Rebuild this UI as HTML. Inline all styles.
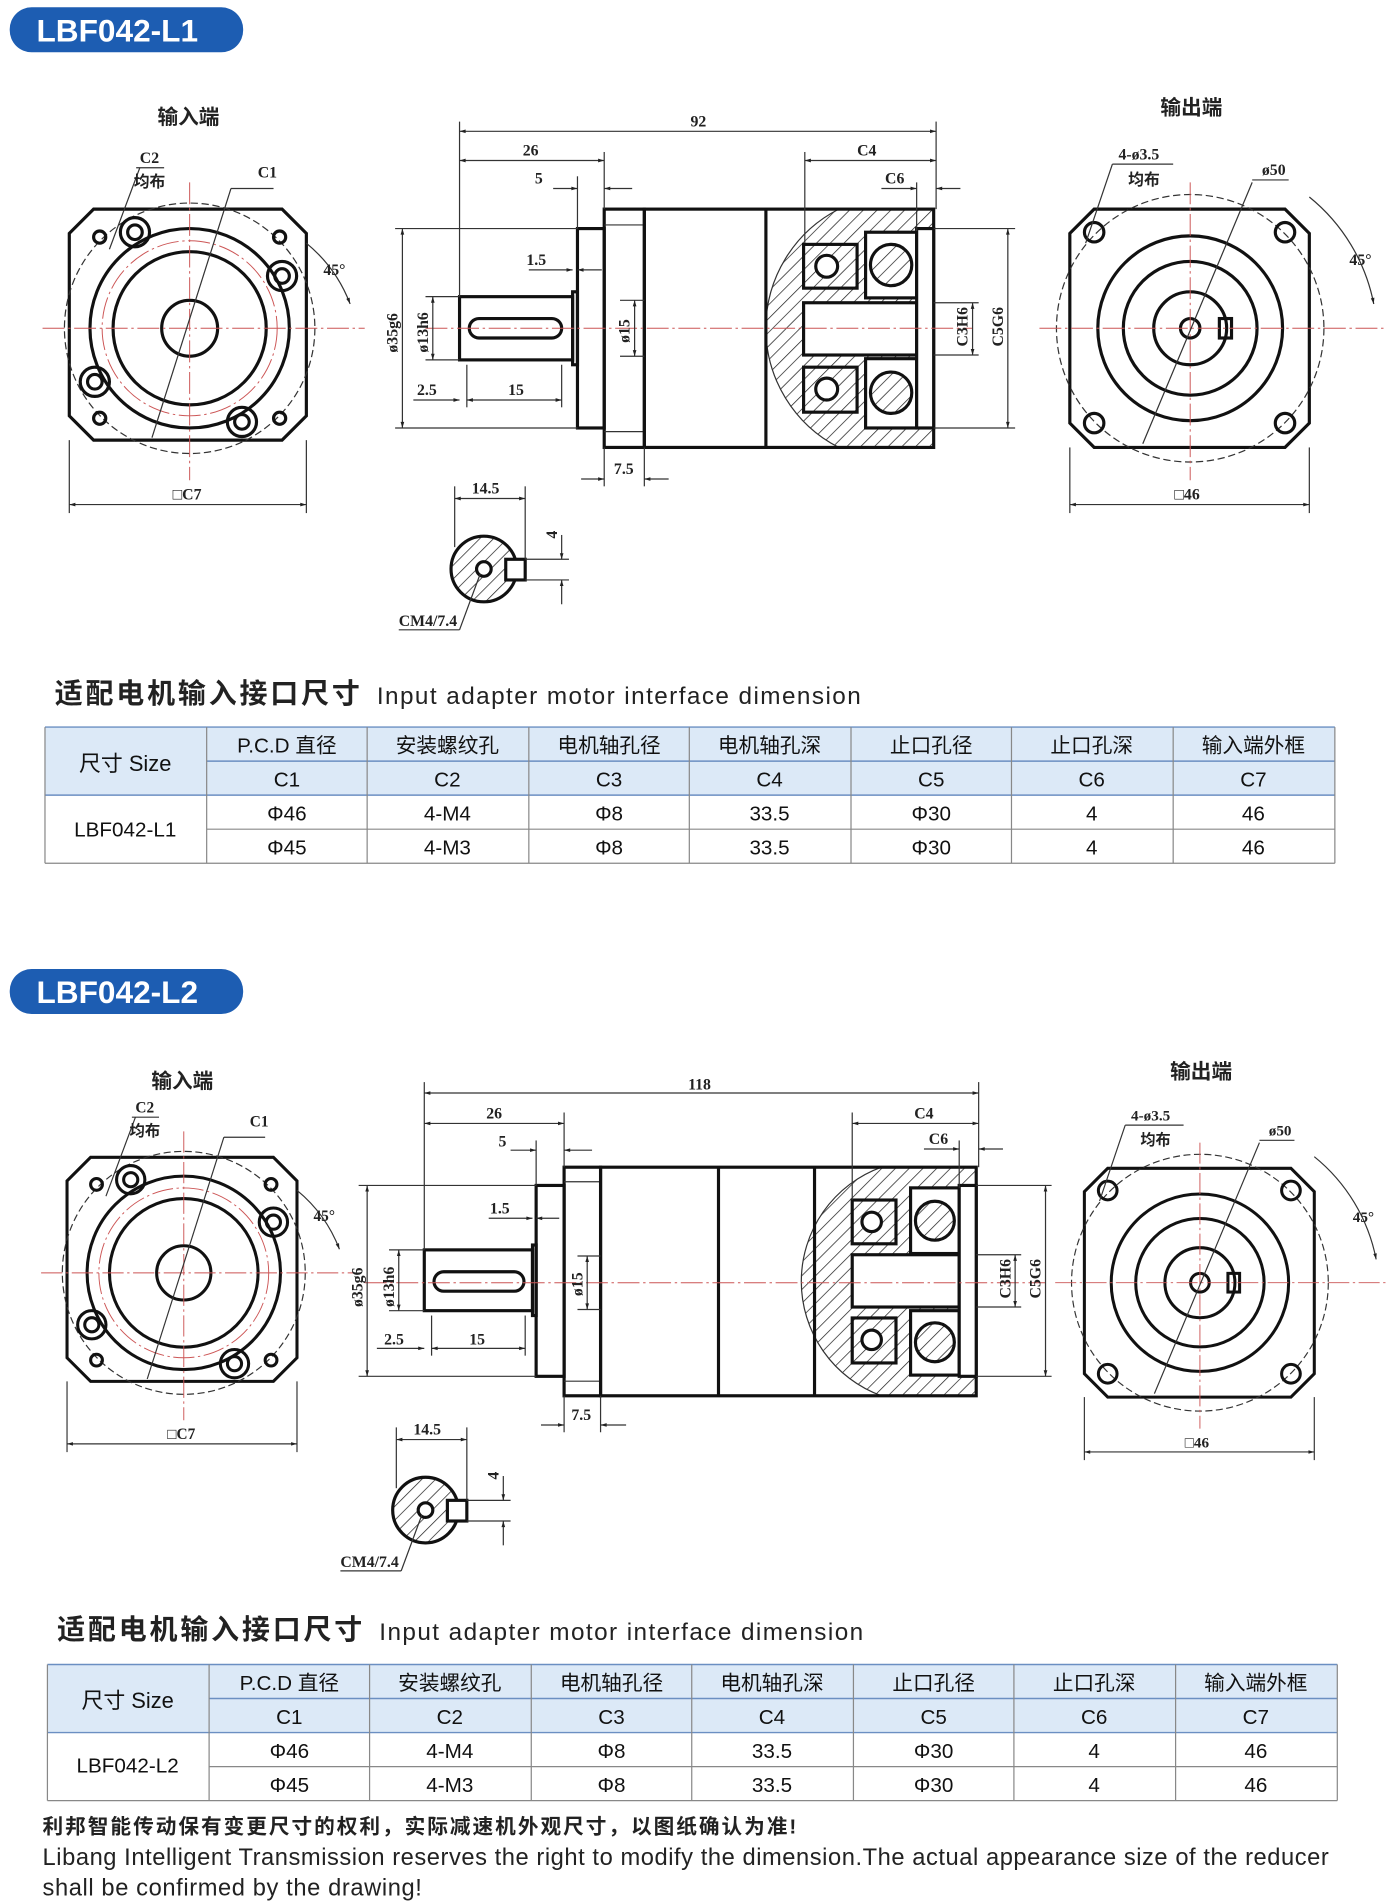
<!DOCTYPE html>
<html><head><meta charset="utf-8"><style>
html,body{margin:0;padding:0;background:#fff}
svg{display:block}
.d{font-family:"Liberation Serif","Noto Serif CJK SC",serif;font-size:13px;font-weight:bold;fill:#222}
.c{font-family:"Liberation Sans","Noto Sans CJK SC",sans-serif;font-weight:bold;fill:#222}
.t{font-family:"Liberation Sans","Noto Sans CJK SC",sans-serif;font-size:17px;fill:#111;text-anchor:middle}
.k{stroke:#111;stroke-width:2.6;fill:none}
.k.kh{fill:url(#h)}
.k.kw{fill:#fff}
.n{stroke:#333;stroke-width:1;fill:none}
.r{stroke:#c55;stroke-width:0.8;fill:none;stroke-dasharray:18 3 2 3}
</style></head><body>
<svg width="1392" height="1904" viewBox="0 0 1145 1566" preserveAspectRatio="none" xmlns="http://www.w3.org/2000/svg">
<defs>
<pattern id="h" width="8" height="8" patternUnits="userSpaceOnUse" patternTransform="rotate(45)"><rect width="8" height="8" fill="#fff"/><line x1="0" y1="0" x2="0" y2="8" stroke="#222" stroke-width="1.2"/></pattern>
<marker id="a" viewBox="0 0 10 10" refX="10" refY="5" markerWidth="8" markerHeight="5" orient="auto-start-reverse"><path d="M0,2 L10,5 L0,8z" fill="#222"/></marker>
<g id="inV">
<path class="k" d="M77,172 L232,172 L252,192 L252,342 L232,362 L77,362 L57,342 L57,192Z"/>
<circle cx="156" cy="270" r="103" class="n" stroke-dasharray="6 3"/>
<circle cx="156" cy="270" r="82" class="k"/>
<circle cx="156" cy="270" r="63" class="k" stroke-width="2"/>
<circle cx="156" cy="270" r="23" class="k"/>
<circle cx="156" cy="270" r="72" class="r"/>
<g class="k"><circle cx="111" cy="191" r="12"/><circle cx="111" cy="191" r="6"/><circle cx="232" cy="227" r="12"/><circle cx="232" cy="227" r="6"/><circle cx="78" cy="314" r="12"/><circle cx="78" cy="314" r="6"/><circle cx="199" cy="347" r="12"/><circle cx="199" cy="347" r="6"/></g>
<g class="k" stroke-width="1.6"><circle cx="82" cy="195" r="5"/><circle cx="230" cy="195" r="5"/><circle cx="82" cy="344" r="5"/><circle cx="230" cy="344" r="5"/></g>
<line x1="35" y1="270" x2="300" y2="270" class="r"/><line x1="156" y1="150" x2="156" y2="395" class="r"/>
<line x1="125" y1="360" x2="190" y2="155" class="n"/><line x1="190" y1="155" x2="225" y2="155" class="n"/>
<line x1="90" y1="205" x2="115" y2="138" class="n"/><line x1="112" y1="138" x2="135" y2="138" class="n"/>
<text x="212" y="146" class="d">C1</text><text x="115" y="134" class="d">C2</text><text x="110" y="154" class="c" font-size="13">均布</text>
<path d="M252,200 A120,120 0 0 1 288,250" class="n" marker-end="url(#a)"/><text x="266" y="226" class="d">45°</text>
<line x1="57" y1="362" x2="57" y2="422" class="n"/><line x1="252" y1="362" x2="252" y2="422" class="n"/>
<line x1="57" y1="415" x2="252" y2="415" class="n" marker-start="url(#a)" marker-end="url(#a)"/>
<text x="142" y="411" class="d">□C7</text>
</g>
<g id="outV">
<path class="k" d="M900,172 L1057,172 L1077,192 L1077,348 L1057,368 L900,368 L880,348 L880,192Z"/>
<circle cx="979" cy="270" r="110" class="n" stroke-dasharray="6 3"/>
<circle cx="979" cy="270" r="76" class="k" stroke-width="2"/>
<circle cx="979" cy="270" r="55" class="k" stroke-width="2"/>
<circle cx="979" cy="270" r="30" class="k"/>
<circle cx="979" cy="270" r="8" class="k" stroke-width="2"/>
<rect x="1003" y="262" width="10" height="16" class="k" stroke-width="1.5"/>
<g class="k" stroke-width="2"><circle cx="900" cy="191" r="8"/><circle cx="1057" cy="191" r="8"/><circle cx="900" cy="348" r="8"/><circle cx="1057" cy="348" r="8"/></g>
<line x1="855" y1="270" x2="1140" y2="270" class="r"/><line x1="979" y1="150" x2="979" y2="395" class="r"/>
<line x1="940" y1="365" x2="1030" y2="150" class="n"/><line x1="1030" y1="148" x2="1060" y2="148" class="n"/>
<line x1="893" y1="200" x2="915" y2="135" class="n"/><line x1="915" y1="135" x2="965" y2="135" class="n"/>
<text x="1038" y="144" class="d">ø50</text><text x="920" y="131" class="d">4-ø3.5</text><text x="928" y="152" class="c" font-size="13">均布</text>
<path d="M1077,162 A150,150 0 0 1 1130,250" class="n" marker-end="url(#a)"/><text x="1110" y="218" class="d">45°</text>
<line x1="880" y1="368" x2="880" y2="422" class="n"/><line x1="1077" y1="368" x2="1077" y2="422" class="n"/>
<line x1="880" y1="415" x2="1077" y2="415" class="n" marker-start="url(#a)" marker-end="url(#a)"/>
<text x="966" y="411" class="d">□46</text>
</g>
<g id="keyV">
<circle cx="398" cy="468" r="27" class="k kh"/>
<rect x="416" y="460" width="16" height="17" class="k kw" stroke-width="2.2"/>
<circle cx="398" cy="468" r="6" class="k kw" stroke-width="2"/>
<line x1="374" y1="400" x2="374" y2="450" class="n"/><line x1="432" y1="400" x2="432" y2="460" class="n"/>
<line x1="374" y1="410" x2="432" y2="410" class="n" marker-start="url(#a)" marker-end="url(#a)"/><text x="388" y="406" class="d">14.5</text>
<line x1="432" y1="460" x2="468" y2="460" class="n"/><line x1="432" y1="477" x2="468" y2="477" class="n"/>
<line x1="462" y1="440" x2="462" y2="460" class="n" marker-end="url(#a)"/><line x1="462" y1="497" x2="462" y2="477" class="n" marker-end="url(#a)"/>
<text x="458" y="443" class="d" transform="rotate(-90 458 443)">4</text>
<line x1="378" y1="518" x2="395" y2="472" class="n"/><line x1="328" y1="518" x2="378" y2="518" class="n"/>
<text x="328" y="515" class="d">CM4/7.4</text>
</g>
</defs>

<rect x="8" y="6" width="192" height="37" rx="18" fill="#1d5db2"/>
<text x="30" y="34" font-family="Liberation Sans,sans-serif" font-size="26" font-weight="bold" fill="#fff">LBF042-L1</text>
<text x="155" y="102" class="c" font-size="17" text-anchor="middle">输入端</text>
<text x="980" y="94" class="c" font-size="17" text-anchor="middle">输出端</text>
<use href="#inV"/><use href="#outV"/><use href="#keyV"/>

<g>
<path d="M690,172 L768,172 L768,368 L690,368 A110,110 0 0 1 690,172Z" fill="url(#h)" stroke="none"/>
<path d="M690,172 A110,110 0 0 0 690,368" class="n" stroke-width="1.5"/>
<rect x="378" y="244" width="93" height="52" class="k"/>
<rect x="386" y="262" width="76" height="16" rx="8" class="k" stroke-width="2"/>
<rect x="471" y="240" width="4" height="60" class="k" stroke-width="1.5"/>
<rect x="475" y="188" width="22" height="164" class="k"/>
<rect x="497" y="172" width="33" height="196" class="k"/>
<line x1="497" y1="185" x2="530" y2="185" class="n"/><line x1="497" y1="355" x2="530" y2="355" class="n"/>
<rect x="530" y="172" width="238" height="196" class="k"/>
<line x1="630" y1="172" x2="630" y2="368" class="k"/>
<rect x="661" y="249" width="93" height="43" class="k kw"/>
<rect x="712" y="191" width="42" height="54" class="k kw"/><circle cx="733" cy="218" r="17" class="k kh"/>
<rect x="712" y="295" width="42" height="57" class="k kw"/><circle cx="733" cy="323" r="17" class="k kh"/>
<rect x="661" y="201" width="44" height="36" class="k kh"/><circle cx="680" cy="219" r="9" class="k kw"/>
<rect x="661" y="302" width="44" height="37" class="k kh"/><circle cx="680" cy="320" r="9" class="k kw"/>
<rect x="754" y="188" width="14" height="164" class="k kw" stroke-width="2"/>
<line x1="350" y1="270" x2="800" y2="270" class="r"/>
<g class="n">
<line x1="378" y1="100" x2="378" y2="244"/><line x1="770" y1="100" x2="770" y2="172"/>
<line x1="378" y1="108" x2="770" y2="108" marker-start="url(#a)" marker-end="url(#a)"/>
<line x1="497" y1="125" x2="497" y2="172"/><line x1="378" y1="132" x2="497" y2="132" marker-start="url(#a)" marker-end="url(#a)"/>
<line x1="475" y1="145" x2="475" y2="188"/><line x1="455" y1="155" x2="475" y2="155" marker-end="url(#a)"/><line x1="520" y1="155" x2="497" y2="155" marker-end="url(#a)"/>
<line x1="662" y1="125" x2="662" y2="200"/><line x1="662" y1="132" x2="770" y2="132" marker-start="url(#a)" marker-end="url(#a)"/>
<line x1="754" y1="150" x2="754" y2="190"/><line x1="725" y1="155" x2="754" y2="155" marker-end="url(#a)"/><line x1="790" y1="155" x2="770" y2="155" marker-end="url(#a)"/>
<line x1="435" y1="222" x2="471" y2="222" marker-end="url(#a)"/><line x1="495" y1="222" x2="475" y2="222" marker-end="url(#a)"/>
<line x1="325" y1="188" x2="475" y2="188"/><line x1="325" y1="352" x2="475" y2="352"/>
<line x1="331" y1="188" x2="331" y2="352" marker-start="url(#a)" marker-end="url(#a)"/>
<line x1="350" y1="244" x2="378" y2="244"/><line x1="350" y1="296" x2="378" y2="296"/>
<line x1="356" y1="244" x2="356" y2="296" marker-start="url(#a)" marker-end="url(#a)"/>
<line x1="510" y1="247" x2="530" y2="247"/><line x1="510" y1="293" x2="530" y2="293"/>
<line x1="522" y1="247" x2="522" y2="293" marker-start="url(#a)" marker-end="url(#a)"/>
<line x1="768" y1="249" x2="805" y2="249"/><line x1="768" y1="292" x2="805" y2="292"/>
<line x1="800" y1="249" x2="800" y2="292" marker-start="url(#a)" marker-end="url(#a)"/>
<line x1="768" y1="188" x2="835" y2="188"/><line x1="768" y1="352" x2="835" y2="352"/>
<line x1="829" y1="188" x2="829" y2="352" marker-start="url(#a)" marker-end="url(#a)"/>
<line x1="384" y1="300" x2="384" y2="335"/><line x1="462" y1="300" x2="462" y2="335"/>
<line x1="340" y1="329" x2="378" y2="329" marker-end="url(#a)"/><line x1="384" y1="329" x2="462" y2="329" marker-start="url(#a)" marker-end="url(#a)"/>
<line x1="497" y1="368" x2="497" y2="400"/><line x1="530" y1="368" x2="530" y2="400"/>
<line x1="478" y1="394" x2="497" y2="394" marker-end="url(#a)"/><line x1="550" y1="394" x2="530" y2="394" marker-end="url(#a)"/>
</g>
<text x="568" y="104" class="d">92</text><text x="430" y="128" class="d">26</text><text x="440" y="151" class="d">5</text>
<text x="705" y="128" class="d">C4</text><text x="728" y="151" class="d">C6</text><text x="433" y="218" class="d">1.5</text>
<text x="343" y="325" class="d">2.5</text><text x="418" y="325" class="d">15</text><text x="505" y="390" class="d">7.5</text>
<text class="d" transform="translate(327,290) rotate(-90)">ø35g6</text>
<text class="d" transform="translate(352,290) rotate(-90)">ø13h6</text>
<text class="d" transform="translate(518,282) rotate(-90)">ø15</text>
<text class="d" transform="translate(796,285) rotate(-90)">C3H6</text>
<text class="d" transform="translate(825,285) rotate(-90)">C5G6</text>
</g>

<text x="45" y="578" class="c" font-size="23" textLength="251">适配电机输入接口尺寸</text>
<text x="310" y="579" font-family="Liberation Sans,sans-serif" font-size="20" fill="#222" textLength="398">Input adapter motor interface dimension</text>

<g id="tbl">
<rect x="37" y="598" width="1061" height="56" fill="#dce9f7"/>
<g stroke="#6b8fc2" stroke-width="1.2">
<line x1="37" y1="598" x2="1098" y2="598"/><line x1="170" y1="626" x2="1098" y2="626"/><line x1="37" y1="654" x2="1098" y2="654"/>
</g>
<g stroke="#888" stroke-width="1">
<line x1="170" y1="682" x2="1098" y2="682"/><line x1="37" y1="710" x2="1098" y2="710"/>
<line x1="37" y1="598" x2="37" y2="710"/><line x1="170" y1="598" x2="170" y2="710"/><line x1="302" y1="598" x2="302" y2="710"/><line x1="435" y1="598" x2="435" y2="710"/><line x1="567" y1="598" x2="567" y2="710"/><line x1="700" y1="598" x2="700" y2="710"/><line x1="832" y1="598" x2="832" y2="710"/><line x1="965" y1="598" x2="965" y2="710"/><line x1="1098" y1="598" x2="1098" y2="710"/>
</g>
<text x="103" y="634" class="t" style="font-size:18px">尺寸 Size</text>
<g class="t"><text x="236" y="619">P.C.D 直径</text><text x="368" y="619">安装螺纹孔</text><text x="501" y="619">电机轴孔径</text><text x="633" y="619">电机轴孔深</text><text x="766" y="619">止口孔径</text><text x="898" y="619">止口孔深</text><text x="1031" y="619">输入端外框</text>
<text x="236" y="647">C1</text><text x="368" y="647">C2</text><text x="501" y="647">C3</text><text x="633" y="647">C4</text><text x="766" y="647">C5</text><text x="898" y="647">C6</text><text x="1031" y="647">C7</text>
<text x="236" y="675">Φ46</text><text x="368" y="675">4-M4</text><text x="501" y="675">Φ8</text><text x="633" y="675">33.5</text><text x="766" y="675">Φ30</text><text x="898" y="675">4</text><text x="1031" y="675">46</text>
<text x="236" y="703">Φ45</text><text x="368" y="703">4-M3</text><text x="501" y="703">Φ8</text><text x="633" y="703">33.5</text><text x="766" y="703">Φ30</text><text x="898" y="703">4</text><text x="1031" y="703">46</text></g>
</g>
<text x="103" y="688" class="t">LBF042-L1</text>

<rect x="8" y="797" width="192" height="37" rx="18" fill="#1d5db2"/>
<text x="30" y="825" font-family="Liberation Sans,sans-serif" font-size="26" font-weight="bold" fill="#fff">LBF042-L2</text>
<text x="150" y="895" class="c" font-size="17" text-anchor="middle">输入端</text>
<text x="988" y="887" class="c" font-size="17" text-anchor="middle">输出端</text>
<g transform="translate(-5,785) scale(0.97) translate(5,0)"><use href="#inV"/></g>
<g transform="translate(8,785) translate(979,270) scale(0.96) translate(-979,-270)"><use href="#outV"/></g>
<g transform="translate(-48,774)"><use href="#keyV"/></g>

<g>
<path d="M725,960 L803,960 L803,1148 L725,1148 A100,100 0 0 1 725,960Z" fill="url(#h)"/>
<path d="M725,960 A100,100 0 0 0 725,1148" class="n" stroke-width="1.5"/>
<rect x="349" y="1028" width="89" height="50" class="k"/>
<rect x="357" y="1046" width="74" height="16" rx="8" class="k" stroke-width="2"/>
<rect x="438" y="1024" width="3" height="58" class="k" stroke-width="1.5"/>
<rect x="441" y="975" width="23" height="157" class="k"/>
<rect x="464" y="960" width="30" height="188" class="k"/>
<line x1="464" y1="972" x2="494" y2="972" class="n"/><line x1="464" y1="1136" x2="494" y2="1136" class="n"/>
<rect x="494" y="960" width="309" height="188" class="k"/>
<line x1="591" y1="960" x2="591" y2="1148" class="k"/><line x1="670" y1="960" x2="670" y2="1148" class="k"/>
<rect x="701" y="1032" width="88" height="43" class="k kw"/>
<rect x="749" y="977" width="40" height="54" class="k kw"/><circle cx="769" cy="1004" r="16" class="k kh"/>
<rect x="749" y="1078" width="40" height="53" class="k kw"/><circle cx="769" cy="1104" r="16" class="k kh"/>
<rect x="701" y="987" width="36" height="36" class="k kh"/><circle cx="717" cy="1005" r="8" class="k kw"/>
<rect x="701" y="1084" width="36" height="37" class="k kh"/><circle cx="717" cy="1102" r="8" class="k kw"/>
<rect x="789" y="975" width="14" height="157" class="k kw" stroke-width="2"/>
<line x1="300" y1="1055" x2="860" y2="1055" class="r"/>
<g class="n">
<line x1="349" y1="890" x2="349" y2="1028"/><line x1="805" y1="890" x2="805" y2="960"/>
<line x1="349" y1="899" x2="805" y2="899" marker-start="url(#a)" marker-end="url(#a)"/>
<line x1="464" y1="915" x2="464" y2="960"/><line x1="349" y1="924" x2="464" y2="924" marker-start="url(#a)" marker-end="url(#a)"/>
<line x1="441" y1="938" x2="441" y2="975"/><line x1="420" y1="946" x2="441" y2="946" marker-end="url(#a)"/><line x1="487" y1="946" x2="464" y2="946" marker-end="url(#a)"/>
<line x1="701" y1="915" x2="701" y2="987"/><line x1="701" y1="924" x2="805" y2="924" marker-start="url(#a)" marker-end="url(#a)"/>
<line x1="789" y1="938" x2="789" y2="977"/><line x1="760" y1="945" x2="789" y2="945" marker-end="url(#a)"/><line x1="825" y1="945" x2="805" y2="945" marker-end="url(#a)"/>
<line x1="402" y1="1002" x2="438" y2="1002" marker-end="url(#a)"/><line x1="460" y1="1002" x2="441" y2="1002" marker-end="url(#a)"/>
<line x1="295" y1="975" x2="441" y2="975"/><line x1="295" y1="1132" x2="441" y2="1132"/>
<line x1="302" y1="975" x2="302" y2="1132" marker-start="url(#a)" marker-end="url(#a)"/>
<line x1="320" y1="1028" x2="349" y2="1028"/><line x1="320" y1="1078" x2="349" y2="1078"/>
<line x1="328" y1="1028" x2="328" y2="1078" marker-start="url(#a)" marker-end="url(#a)"/>
<line x1="475" y1="1033" x2="494" y2="1033"/><line x1="475" y1="1077" x2="494" y2="1077"/>
<line x1="483" y1="1033" x2="483" y2="1077" marker-start="url(#a)" marker-end="url(#a)"/>
<line x1="803" y1="1032" x2="840" y2="1032"/><line x1="803" y1="1075" x2="840" y2="1075"/>
<line x1="835" y1="1032" x2="835" y2="1075" marker-start="url(#a)" marker-end="url(#a)"/>
<line x1="803" y1="975" x2="865" y2="975"/><line x1="803" y1="1132" x2="865" y2="1132"/>
<line x1="860" y1="975" x2="860" y2="1132" marker-start="url(#a)" marker-end="url(#a)"/>
<line x1="355" y1="1082" x2="355" y2="1115"/><line x1="432" y1="1082" x2="432" y2="1115"/>
<line x1="310" y1="1109" x2="349" y2="1109" marker-end="url(#a)"/><line x1="355" y1="1109" x2="432" y2="1109" marker-start="url(#a)" marker-end="url(#a)"/>
<line x1="464" y1="1148" x2="464" y2="1178"/><line x1="494" y1="1148" x2="494" y2="1178"/>
<line x1="445" y1="1172" x2="464" y2="1172" marker-end="url(#a)"/><line x1="515" y1="1172" x2="494" y2="1172" marker-end="url(#a)"/>
</g>
<text x="566" y="896" class="d">118</text><text x="400" y="920" class="d">26</text><text x="410" y="943" class="d">5</text>
<text x="752" y="920" class="d">C4</text><text x="764" y="941" class="d">C6</text><text x="403" y="998" class="d">1.5</text>
<text x="316" y="1106" class="d">2.5</text><text x="386" y="1106" class="d">15</text><text x="470" y="1168" class="d">7.5</text>
<text class="d" transform="translate(298,1075) rotate(-90)">ø35g6</text>
<text class="d" transform="translate(324,1075) rotate(-90)">ø13h6</text>
<text class="d" transform="translate(479,1066) rotate(-90)">ø15</text>
<text class="d" transform="translate(831,1068) rotate(-90)">C3H6</text>
<text class="d" transform="translate(856,1068) rotate(-90)">C5G6</text>
</g>

<text x="47" y="1348" class="c" font-size="23" textLength="251">适配电机输入接口尺寸</text>
<text x="312" y="1349" font-family="Liberation Sans,sans-serif" font-size="20" fill="#222" textLength="398">Input adapter motor interface dimension</text>
<g transform="translate(2,771)"><use href="#tbl"/></g>
<text x="105" y="1458" class="t">LBF042-L2</text>

<text x="35" y="1508" font-family="Liberation Sans,'Noto Sans CJK SC',sans-serif" font-size="17" font-weight="bold" fill="#222" textLength="620">利邦智能传动保有变更尺寸的权利，实际减速机外观尺寸，以图纸确认为准!</text>
<text x="35" y="1534" font-family="Liberation Sans,sans-serif" font-size="19.5" fill="#222" textLength="1058">Libang Intelligent Transmission reserves the right to modify the dimension.The actual appearance size of the reducer</text>
<text x="35" y="1559" font-family="Liberation Sans,sans-serif" font-size="19.5" fill="#222" textLength="312">shall be confirmed by the drawing!</text>
</svg>
</body></html>
